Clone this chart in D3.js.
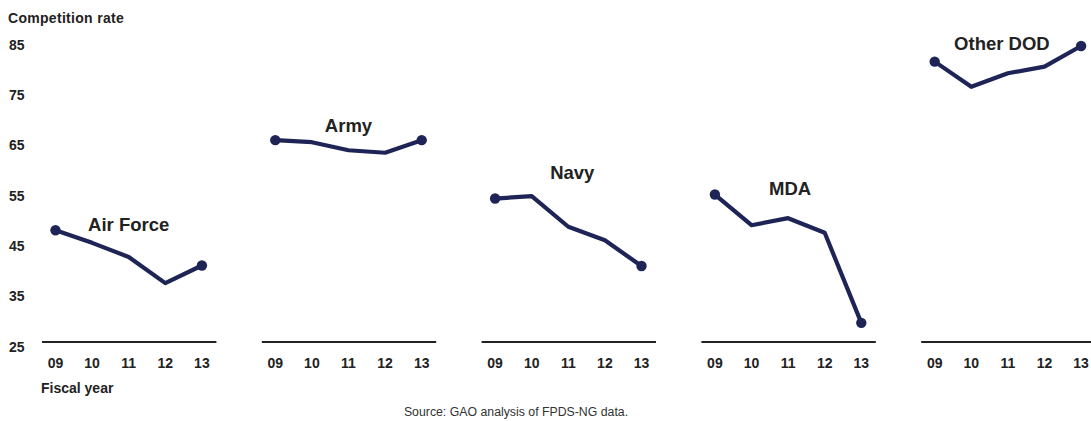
<!DOCTYPE html>
<html>
<head>
<meta charset="utf-8">
<script src="https://cdn.jsdelivr.net/npm/d3@7"></script>
<style>
  html, body { margin: 0; padding: 0; background: #fff; }
  svg { display: block; font-family: "Liberation Sans", Arial, Helvetica, sans-serif; }
</style>
</head>
<body>
<svg id="chart" width="1091" height="421"></svg>
<script>
// ---- data ----
const years = ["09", "10", "11", "12", "13"];
const seriesNames = ["Air Force", "Army", "Navy", "MDA", "Other DOD"];
const airForce = [47.2, 44.7, 41.9, 36.7, 40.2];
const army     = [65.1, 64.7, 63.1, 62.6, 65.1];
const navy     = [53.5, 54.0, 47.9, 45.2, 40.1];
const mda      = [54.3, 48.2, 49.6, 46.7, 28.8];
const otherDod = [80.7, 75.7, 78.4, 79.7, 83.8];
const yTicks = [25, 35, 45, 55, 65, 75, 85];
const seriesValues = [airForce, army, navy, mda, otherDod];

// ---- layout (not data) ----
const W = 1091, H = 421;
const panelStart = 55.5, panelStep = 219.8, panelSpan = 146.4;
const labelPos = [
  { dx: 0,  y: 230.5 },
  { dx: 0,  y: 131.5 },
  { dx: 4,  y: 179 },
  { dx: 2,  y: 194.5 },
  { dx: -6, y: 49.5 }
];
const ink = "#1e2556";

const svg = d3.select("#chart");
const y = d3.scaleLinear().domain([25, 85]).range([342, 40]);

// y tick labels
svg.append("g").selectAll("text").data(yTicks).join("text")
  .attr("x", 9)
  .attr("y", d => y(d) + 9.5)
  .attr("font-size", 14).attr("font-weight", "bold").attr("fill", "#222")
  .text(d => d);

// axis title
svg.append("text").attr("x", 8).attr("y", 23)
  .attr("font-size", 14).attr("font-weight", "bold").attr("fill", "#222")
  .attr("letter-spacing", 0.3)
  .text("Competition rate");

svg.append("text").attr("x", 41).attr("y", 393)
  .attr("font-size", 14).attr("font-weight", "bold").attr("fill", "#222")
  .text("Fiscal year");

svg.append("text").attr("x", 516).attr("y", 415.5)
  .attr("text-anchor", "middle")
  .attr("font-size", 12.3).attr("fill", "#333")
  .text("Source: GAO analysis of FPDS-NG data.");

seriesNames.forEach((name, i) => {
  const x0 = panelStart + i * panelStep;
  const x = d3.scalePoint().domain(years).range([x0, x0 + panelSpan]);
  const g = svg.append("g");

  // baseline
  g.append("line")
    .attr("x1", x(years[0]) - 13.5).attr("x2", x(years[years.length - 1]) + 14.5)
    .attr("y1", y(25)).attr("y2", y(25))
    .attr("stroke", "#222").attr("stroke-width", 2);

  // x tick labels
  g.selectAll("text.tick").data(years).join("text")
    .attr("class", "tick")
    .attr("x", d => x(d)).attr("y", 367.5)
    .attr("text-anchor", "middle")
    .attr("font-size", 14).attr("font-weight", "bold").attr("fill", "#222")
    .text(d => d);

  const vals = seriesValues[i];
  const pts = years.map((yr, k) => [x(yr), y(vals[k])]);
  g.append("path")
    .attr("d", d3.line()(pts))
    .attr("fill", "none").attr("stroke", ink)
    .attr("stroke-width", 4.2).attr("stroke-linejoin", "round").attr("stroke-linecap", "round");

  g.selectAll("circle").data([0, years.length - 1]).join("circle")
    .attr("cx", k => x(years[k])).attr("cy", k => y(vals[k]))
    .attr("r", 5.2).attr("fill", ink);

  g.append("text")
    .attr("x", x("11") + labelPos[i].dx).attr("y", labelPos[i].y)
    .attr("text-anchor", "middle")
    .attr("font-size", 18.5).attr("font-weight", "bold").attr("fill", "#222")
    .text(name);
});
</script>
</body>
</html>
